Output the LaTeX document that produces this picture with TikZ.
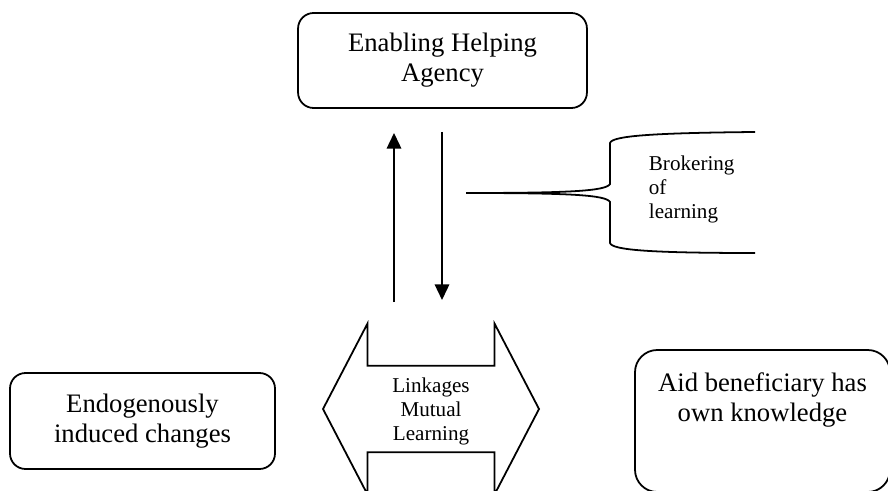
\documentclass[tikz,border=0pt]{standalone}
\usepackage{fontspec}
\setmainfont{Liberation Serif}
\usetikzlibrary{arrows.meta,shapes.arrows}

\begin{document}
\begin{tikzpicture}[x=0.45pt,y=-0.45pt,line width=0.8pt,
  >={Triangle[length=7pt,width=6.5pt]},
  box/.style={draw,rounded corners=7pt,align=center,
    font=\fontsize{12}{13.5}\selectfont},
  small/.style={inner sep=0pt,font=\fontsize{9.5}{10.8}\selectfont}]
  \useasboundingbox (0,0) rectangle (888,491);
  % boxes
  \node[box,minimum width=130pt,minimum height=42.75pt] (agency) at (442.5,60.5)
    {Enabling Helping\\Agency};
  \node[box,minimum width=119.25pt,minimum height=43.2pt] (endo) at (142.5,421)
    {Endogenously\\induced changes};
  \node[box,rounded corners=10pt,minimum width=114.75pt,minimum height=63.9pt,
    label={[align=center,inner sep=0pt,yshift=9.5pt,font=\fontsize{12}{13.5}\selectfont]center:Aid beneficiary has\\own knowledge}]
    (aid) at (762.5,421) {};
  % two way linkage
  \node[draw,double arrow,inner xsep=0pt,inner ysep=19.1pt,minimum height=97.2pt,
    double arrow head extend=18.9pt,double arrow tip angle=125,
    label={[small,align=center,yshift=-1.3pt]center:Linkages\\Mutual\\Learning}]
    (link) at (431,409) {};
  % up and down flows
  \coordinate (upfoot) at (394,302);
  \coordinate (uphead) at (394,133);
  \coordinate (dnfoot) at (442,132);
  \coordinate (dnhead) at (442,300);
  \draw[->] (upfoot) -- (uphead);
  \draw[->] (dnfoot) -- (dnhead);
  % brace
  \coordinate (bracetip) at (466,193);
  \draw (bracetip) .. controls (570,193) and (606,191) .. (610,184)
    -- (610,143) .. controls (612,136) and (650,133) .. (755,132);
  \draw (bracetip) .. controls (570,193) and (606,195) .. (610,202)
    -- (610,243) .. controls (612,250) and (650,253) .. (755,253);
  \node[small,align=left,anchor=west] (broker) at (648,189)
    {Brokering\\of\\learning};
\end{tikzpicture}
\end{document}
